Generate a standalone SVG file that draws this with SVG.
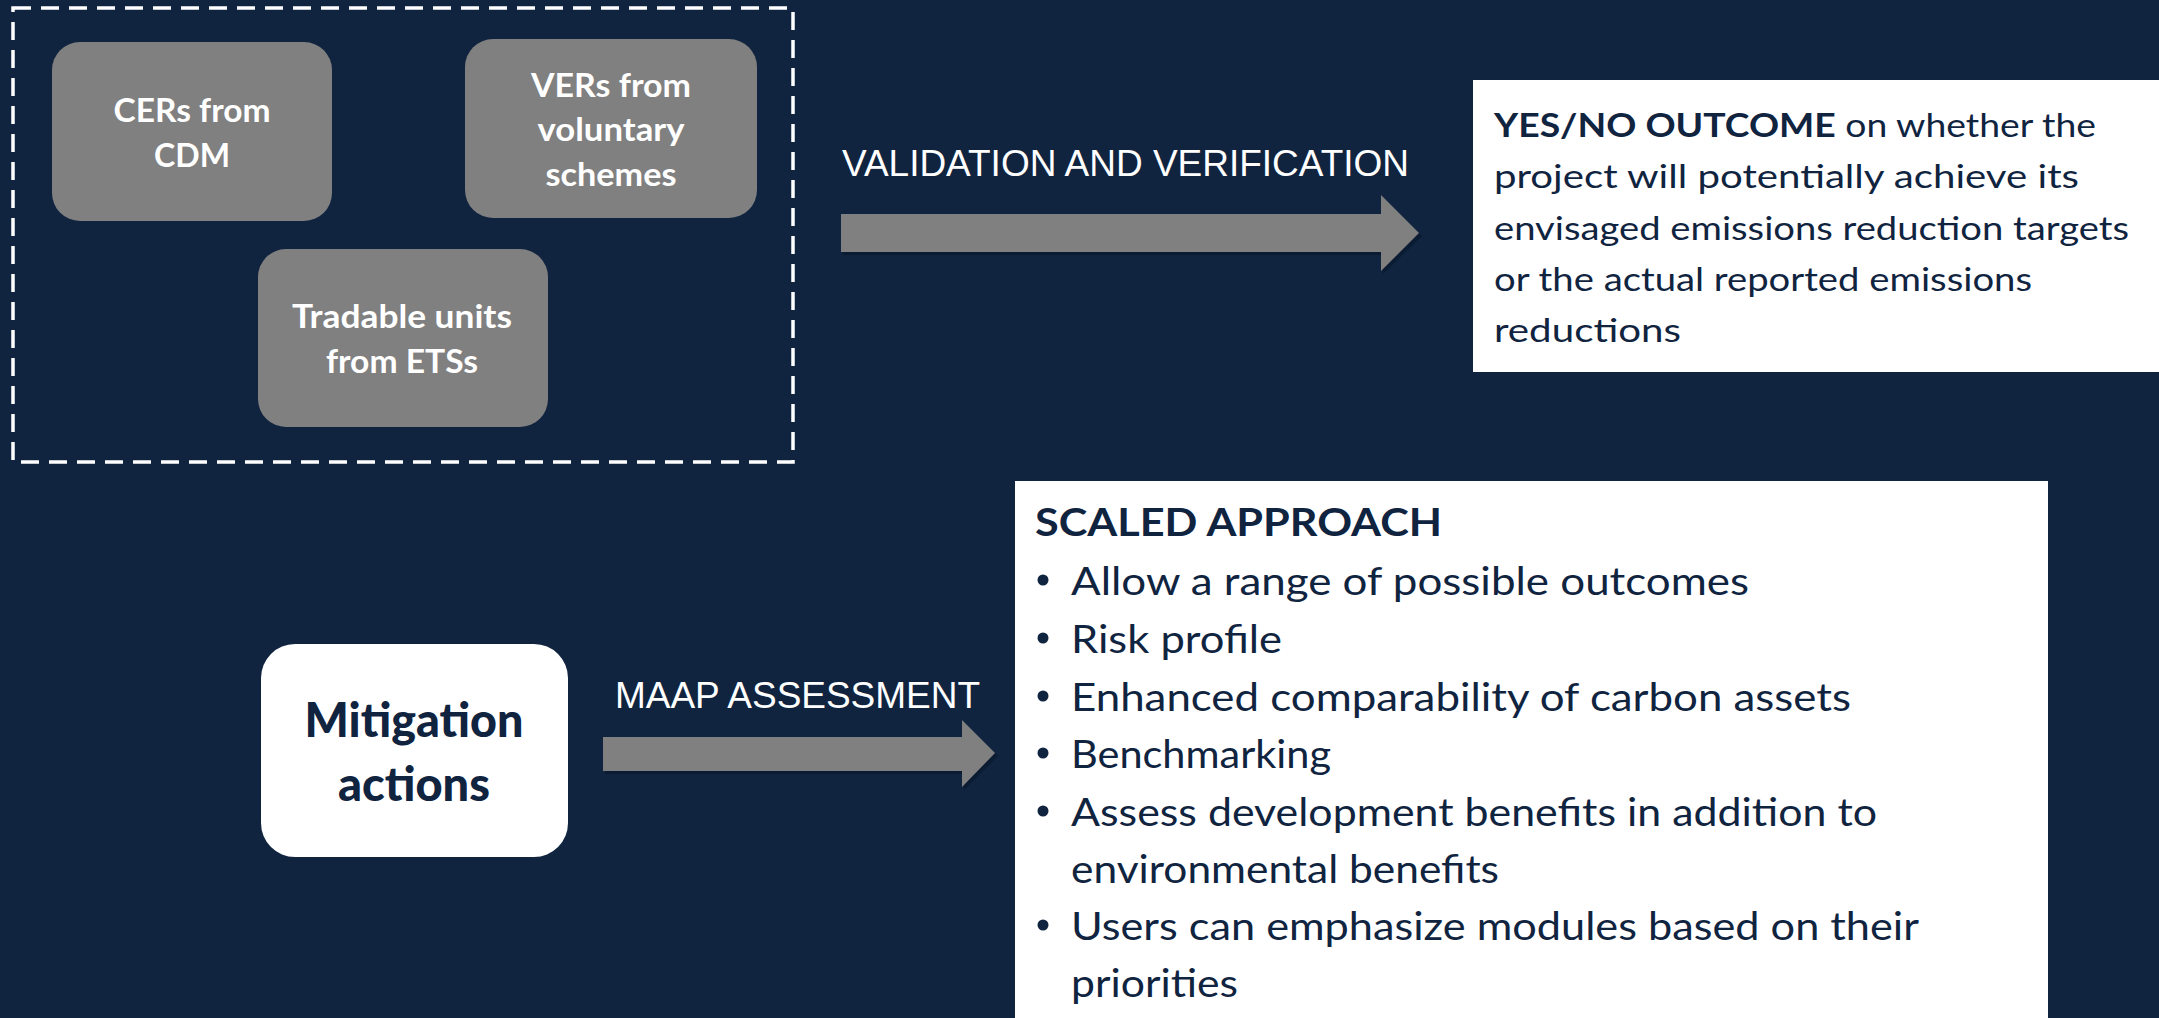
<svg xmlns="http://www.w3.org/2000/svg" width="2159" height="1018" viewBox="0 0 2159 1018">
<defs>
<style>
.bg{fill:#10243F}
.gbox{fill:#808080}
.wbox{fill:#FFFFFF}
.lbl{font-family:Lato,"Open Sans","Liberation Sans",sans-serif;font-weight:700;fill:#FFFFFF;text-anchor:middle;font-size:33px}
.dark{font-family:Lato,"Open Sans","Liberation Sans",sans-serif;fill:#10243F}
.arrowlbl{font-family:"Liberation Sans",Arial,sans-serif;fill:#FFFFFF;font-size:36px}
.arrow{fill:#808080}
.shadow{fill:#07162A;opacity:0.6}
</style>
</defs>
<rect class="bg" x="0" y="0" width="2159" height="1018"/>

<g id="group-box">
<rect x="13" y="8" width="780" height="454" fill="none" stroke="#FFFFFF" stroke-width="3.5" stroke-dasharray="18 10"/>
</g>

<g id="node-cers">
<rect class="gbox" x="52" y="42" width="280" height="179" rx="28"/>
<text class="lbl" x="192" y="122" textLength="157" lengthAdjust="spacingAndGlyphs">CERs from</text>
<text class="lbl" x="192" y="167" textLength="76" lengthAdjust="spacingAndGlyphs">CDM</text>
</g>

<g id="node-vers">
<rect class="gbox" x="465" y="39" width="292" height="179" rx="28"/>
<text class="lbl" x="611" y="97" textLength="160" lengthAdjust="spacingAndGlyphs">VERs from</text>
<text class="lbl" x="611" y="141" textLength="147" lengthAdjust="spacingAndGlyphs">voluntary</text>
<text class="lbl" x="611" y="186" textLength="131" lengthAdjust="spacingAndGlyphs">schemes</text>
</g>

<g id="node-tradable">
<rect class="gbox" x="258" y="249" width="290" height="178" rx="28"/>
<text class="lbl" x="402" y="328" textLength="220" lengthAdjust="spacingAndGlyphs">Tradable units</text>
<text class="lbl" x="402" y="373" textLength="152" lengthAdjust="spacingAndGlyphs">from ETSs</text>
</g>

<g id="node-yesno">
<rect class="wbox" x="1473" y="80" width="686" height="292"/>
<g class="dark" font-size="32">
<text x="1494" y="137" textLength="602" lengthAdjust="spacingAndGlyphs"><tspan font-weight="700">YES/NO OUTCOME</tspan> on whether the</text>
<text x="1494" y="188" textLength="585" lengthAdjust="spacingAndGlyphs">project will potentially achieve its</text>
<text x="1494" y="240" textLength="635" lengthAdjust="spacingAndGlyphs">envisaged emissions reduction targets</text>
<text x="1494" y="291" textLength="538" lengthAdjust="spacingAndGlyphs">or the actual reported emissions</text>
<text x="1494" y="342" textLength="187" lengthAdjust="spacingAndGlyphs">reductions</text>
</g>
</g>

<g id="node-mitigation">
<rect class="wbox" x="261" y="644" width="307" height="213" rx="34"/>
<g class="dark" font-size="48" font-weight="900" text-anchor="middle">
<text x="414" y="737" textLength="219" lengthAdjust="spacingAndGlyphs">Mitigation</text>
<text x="414" y="801" textLength="152" lengthAdjust="spacingAndGlyphs">actions</text>
</g>
</g>

<g id="node-scaled">
<rect class="wbox" x="1015" y="481" width="1033" height="537"/>
<g class="dark" font-size="38">
<text x="1035" y="536" font-weight="700" textLength="407" lengthAdjust="spacingAndGlyphs">SCALED APPROACH</text>
<circle cx="1043" cy="580" r="5.5"/>
<text x="1071" y="595" textLength="678" lengthAdjust="spacingAndGlyphs">Allow a range of possible outcomes</text>
<circle cx="1043" cy="638" r="5.5"/>
<text x="1071" y="653" textLength="211" lengthAdjust="spacingAndGlyphs">Risk profile</text>
<circle cx="1043" cy="696" r="5.5"/>
<text x="1071" y="711" textLength="780" lengthAdjust="spacingAndGlyphs">Enhanced comparability of carbon assets</text>
<circle cx="1043" cy="753" r="5.5"/>
<text x="1071" y="768" textLength="260" lengthAdjust="spacingAndGlyphs">Benchmarking</text>
<circle cx="1043" cy="811" r="5.5"/>
<text x="1071" y="826" textLength="806" lengthAdjust="spacingAndGlyphs">Assess development benefits in addition to</text>
<text x="1071" y="883" textLength="428" lengthAdjust="spacingAndGlyphs">environmental benefits</text>
<circle cx="1043" cy="925" r="5.5"/>
<text x="1071" y="940" textLength="848" lengthAdjust="spacingAndGlyphs">Users can emphasize modules based on their</text>
<text x="1071" y="997" textLength="167" lengthAdjust="spacingAndGlyphs">priorities</text>
</g>
</g>

<g id="connectors">
<g id="edge-validation">
<path class="shadow" d="M843,217 H1383 V198 L1422,236 L1383,274 V255 H843 Z"/>
<path class="arrow" d="M841,214 H1381 V195 L1419,233 L1381,271 V252 H841 Z"/>
<text class="arrowlbl" x="842" y="176" textLength="567" lengthAdjust="spacingAndGlyphs">VALIDATION AND VERIFICATION</text>
</g>
<g id="edge-maap">
<path class="shadow" d="M605,740 H964 V723 L998,756 L964,790 V774 H605 Z"/>
<path class="arrow" d="M603,737 H962 V720 L995,753 L962,787 V771 H603 Z"/>
<text class="arrowlbl" x="615" y="708" textLength="365" lengthAdjust="spacingAndGlyphs">MAAP ASSESSMENT</text>
</g>
</g>
</svg>
